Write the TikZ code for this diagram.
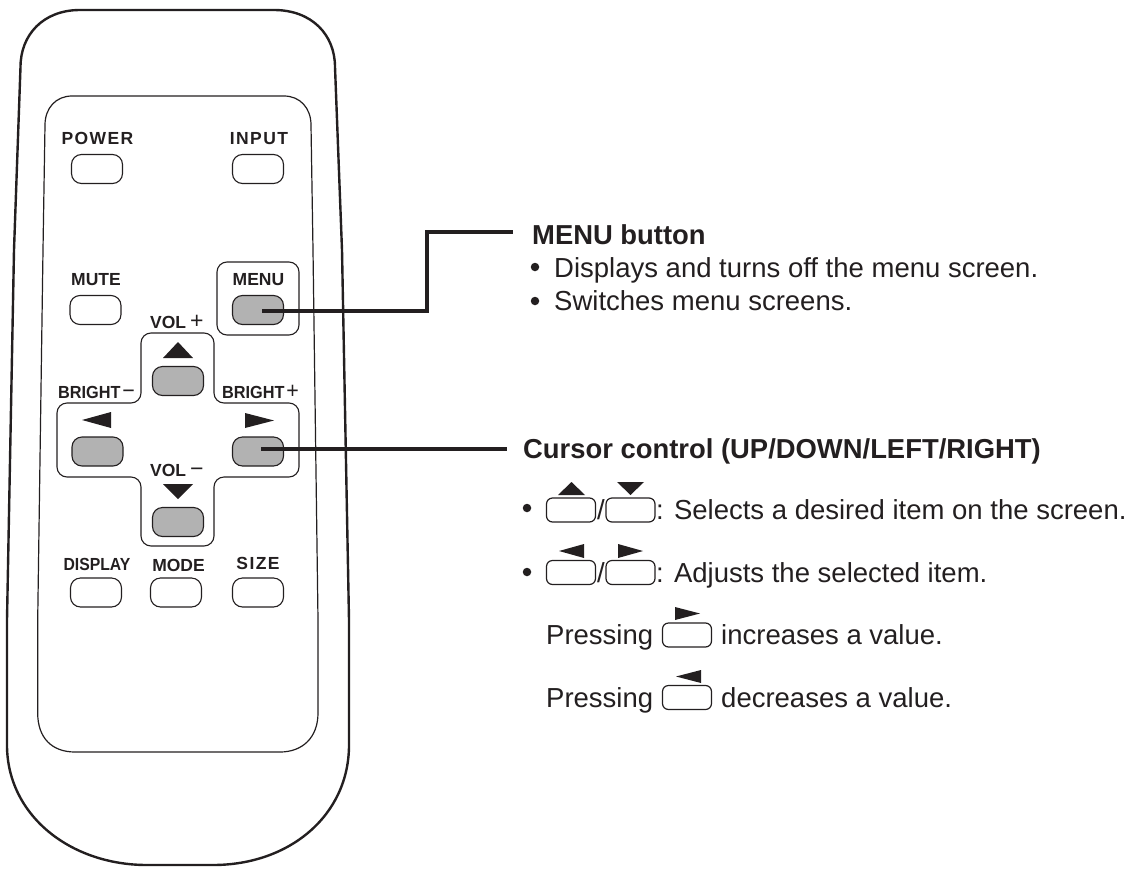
\documentclass[tikz,border=0pt]{standalone}
\usepackage{fontspec}
\setmainfont{Liberation Sans}
\definecolor{ink}{HTML}{231F20}
\newcommand{\keysign}[1]{{\mdseries\fontsize{23}{18}\selectfont #1}}
\tikzset{
  btn/.style={draw,line width=1.1pt,rounded corners=10pt,minimum width=51pt,minimum height=29pt,inner sep=0pt},
  greybtn/.style={btn,fill=black!30},
  icon/.style={draw,line width=1.2pt,rounded corners=6pt,minimum width=49pt,minimum height=24pt,inner sep=0pt},
  keytext/.style={font=\bfseries\fontsize{17.5}{18}\selectfont,inner sep=0pt},
  signkey/.style={keytext,anchor=base west},
  widekey/.style={font=\bfseries\fontsize{17.5}{18}\selectfont\addfontfeature{LetterSpace=8},inner sep=0pt},
  bodytext/.style={anchor=base west,font=\fontsize{27.5}{28}\selectfont,inner sep=0pt},
  headtext/.style={bodytext,font=\bfseries\fontsize{27.4}{28}\selectfont},
  dot/.style={fill,circle,inner sep=0pt,minimum size=8.5pt},
  leader/.style={line width=3.2pt},
}
\begin{document}
\begin{tikzpicture}[x=1pt,y=-1pt,color=ink]
\useasboundingbox (0,0) rectangle (1134,870);
% housing
\draw[line width=2.4pt] (80,10) -- (274,10) .. controls (312,10) and (335,35) .. (335,67)
  -- (342,250) -- (349,620) -- (349,745) .. controls (349,815) and (290,865) .. (213,865) -- (147,865)
  .. controls (70,865) and (7,815) .. (7,745) -- (7,620) -- (14,250) -- (20.5,67) .. controls (20.5,35) and (43,10) .. (80,10) -- cycle;
% panel
\draw[line width=1.2pt] (72,96) -- (284,96) .. controls (300,96) and (311,108) .. (311,125)
  -- (313,250) -- (318,620) -- (318,713) .. controls (318,738) and (302,752) .. (280,752) -- (75,752)
  .. controls (52,752) and (37.7,738) .. (37.7,713) -- (37.7,620) -- (43,250) -- (45,125) .. controls (45,108) and (56,96) .. (72,96) -- cycle;
% menu box and cross
\node[draw,line width=1.1pt,rounded corners=10pt,minimum width=82pt,minimum height=73pt,inner sep=0pt] (menubox) at (258,298.5) {};
\draw[line width=1.1pt,rounded corners=10pt] (141,403) -- (141,333) -- (214,333) -- (214,403) -- (299,403) -- (299,477)
  -- (214,477) -- (214,546) -- (141,546) -- (141,477) -- (57,477) -- (57,403) -- cycle;
% buttons
\node[btn] (powerbtn) at (97,169) {};
\node[btn] (inputbtn) at (258,169) {};
\node[btn] (mutebtn) at (95.5,310) {};
\node[greybtn] (menubtn) at (258,310) {};
\node[greybtn] (upbtn) at (178,381) {};
\node[greybtn] (leftbtn) at (97.5,451.5) {};
\node[greybtn] (rightbtn) at (258,451.5) {};
\node[greybtn] (downbtn) at (178,522) {};
\node[btn] (displaybtn) at (96,592.5) {};
\node[btn] (modebtn) at (176,592.5) {};
\node[btn] (sizebtn) at (258,592.5) {};
% key labels
\node[widekey] (powerlab) at (97.5,138) {POWER};
\node[widekey] (inputlab) at (259,139) {INPUT};
\node[keytext] (mutelab) at (96,280) {MUTE};
\node[keytext] (menulab) at (258.5,280) {MENU};
\node[signkey] (volplus) at (150,328) {VOL\hspace{4pt}\keysign{+}};
\node[signkey,xscale=0.93] (brightminus) at (58,398) {BRIGHT\hspace{2pt}\keysign{−}};
\node[signkey,xscale=0.93] (brightplus) at (222,398) {BRIGHT\hspace{2pt}\keysign{+}};
\node[signkey] (volminus) at (150,476) {VOL\hspace{4pt}\keysign{−}};
\node[keytext,xscale=0.9] (displaylab) at (97,564) {DISPLAY};
\node[keytext] (modelab) at (178.5,565) {MODE};
\node[widekey] (sizelab) at (258,563.5) {SIZE};
% arrows on the remote
\fill (178,342) -- (193,358) -- (163,358) -- cycle;
\fill (163,484) -- (193,484) -- (178,499) -- cycle;
\fill (82,420) -- (111,412) -- (111,428) -- cycle;
\fill (274,420.5) -- (245,413) -- (245,428) -- cycle;
% leaders
\coordinate (menubend) at (427,232);
\coordinate (menuend) at (513,232);
\coordinate (cursorend) at (507,449);
\draw[leader] ([xshift=4pt,yshift=-1pt]menubtn.center) -| (menubend) -- (menuend);
\draw[leader] ([xshift=3pt,yshift=2.5pt]rightbtn.center) -- (cursorend);
% texts
\node[headtext] (menuhead) at (532,244) {MENU button};
\node[dot] (menudotone) at (535,267) {};
\node[bodytext] (menuone) at (554,277) {Displays and turns off the menu screen.};
\node[dot] (menudottwo) at (535,301) {};
\node[bodytext] (menutwo) at (554,310.5) {Switches menu screens.};
\node[headtext] (cursorhead) at (523,458) {Cursor control (UP/DOWN/LEFT/RIGHT)};
\node[dot] (dotone) at (527,508) {};
\node[icon] (iconup) at (571,510) {};
\node[bodytext] (slashone) at (597,519) {/};
\node[icon] (icondown) at (630.5,510) {};
\node[bodytext] (selects) at (656,519) {: Selects a desired item on the screen.};
\node[dot] (dottwo) at (527,572) {};
\node[icon] (iconleft) at (571,572.5) {};
\node[bodytext] (slashtwo) at (597,582) {/};
\node[icon] (iconright) at (630.5,572.5) {};
\node[bodytext] (adjusts) at (656,582) {: Adjusts the selected item.};
\node[bodytext] (pressone) at (546,644) {Pressing};
\node[icon] (iconinc) at (687,635) {};
\node[bodytext] (increases) at (721,644) {increases a value.};
\node[bodytext] (presstwo) at (546,707) {Pressing};
\node[icon] (icondec) at (687,697.5) {};
\node[bodytext] (decreases) at (721,707) {decreases a value.};
% arrows in the text
\fill (571.5,482) -- (585,495) -- (558,495) -- cycle;
\fill (617,482) -- (644,482) -- (630.5,495) -- cycle;
\fill (559,551) -- (584,544) -- (584,558) -- cycle;
\fill (643,551) -- (618,544) -- (618,558) -- cycle;
\fill (700,613.5) -- (675,607) -- (675,620) -- cycle;
\fill (676,676.5) -- (701,670) -- (701,683) -- cycle;
\end{tikzpicture}
\end{document}
